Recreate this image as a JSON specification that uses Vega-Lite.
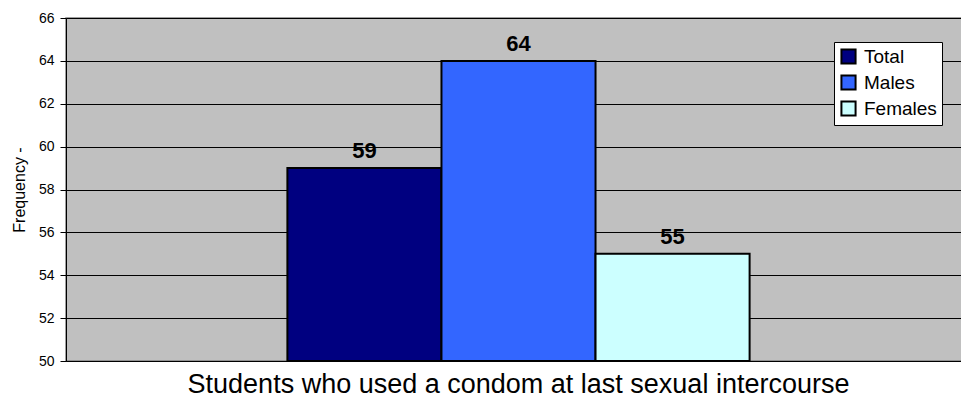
{
  "$schema": "https://vega.github.io/schema/vega-lite/v6.json",
  "autosize": "none",
  "width": 905,
  "height": 343,
  "padding": {"left": 66, "top": 18, "right": 0, "bottom": 39},
  "background": "white",
  "config": {
    "font": "Liberation Sans",
    "view": {"fill": "#C0C0C0", "stroke": "#808080", "strokeWidth": 1.5}
  },
  "data": {
    "values": [
      {"group": "Students who used a condom at last sexual intercourse", "series": "Total", "value": 59},
      {"group": "Students who used a condom at last sexual intercourse", "series": "Males", "value": 64},
      {"group": "Students who used a condom at last sexual intercourse", "series": "Females", "value": 55}
    ]
  },
  "encoding": {
    "x": {
      "field": "group",
      "type": "nominal",
      "scale": {"paddingInner": 0, "paddingOuter": 0.479},
      "axis": {
        "title": null,
        "labelAngle": 0,
        "labelFontSize": 27,
        "labelColor": "#000",
        "labelLimit": 2000,
        "labelPadding": 10,
        "ticks": false,
        "domain": true,
        "domainColor": "#000",
        "domainWidth": 1
      }
    },
    "xOffset": {
      "field": "series",
      "type": "nominal",
      "sort": ["Total", "Males", "Females"],
      "scale": {"paddingInner": 0, "paddingOuter": 0}
    },
    "y": {
      "field": "value",
      "type": "quantitative",
      "scale": {"domain": [50, 66], "zero": false, "nice": false},
      "axis": {
        "values": [50, 52, 54, 56, 58, 60, 62, 64, 66],
        "title": "Frequency -",
        "titleFontSize": 16,
        "titleFontWeight": "normal",
        "titleColor": "#000",
        "titlePadding": 11,
        "labelFontSize": 14,
        "labelColor": "#000",
        "labelPadding": 6,
        "tickColor": "#000",
        "tickSize": 6,
        "domainColor": "#000",
        "gridColor": "#000",
        "gridOpacity": 1,
        "gridWidth": 1
      }
    }
  },
  "layer": [
    {
      "mark": {"type": "bar", "stroke": "#000", "strokeWidth": 2},
      "encoding": {
        "y2": {"datum": 50},
        "color": {
          "field": "series",
          "type": "nominal",
          "sort": ["Total", "Males", "Females"],
          "scale": {"domain": ["Total", "Males", "Females"], "range": ["#000080", "#3366FF", "#CCFFFF"]},
          "legend": {
            "title": null,
            "orient": "none",
            "legendX": 768,
            "legendY": 24,
            "symbolType": "square",
            "symbolSize": 200,
            "symbolStrokeColor": "#000",
            "symbolStrokeWidth": 2,
            "labelFontSize": 19,
            "labelColor": "#000",
            "labelOffset": 6,
            "rowPadding": 3,
            "fillColor": "white",
            "strokeColor": "#000",
            "padding": 5
          }
        }
      }
    },
    {
      "mark": {"type": "text", "fontWeight": "bold", "fontSize": 22, "baseline": "alphabetic", "dy": -10, "color": "#000"},
      "encoding": {"text": {"field": "value", "type": "quantitative"}}
    }
  ]
}
